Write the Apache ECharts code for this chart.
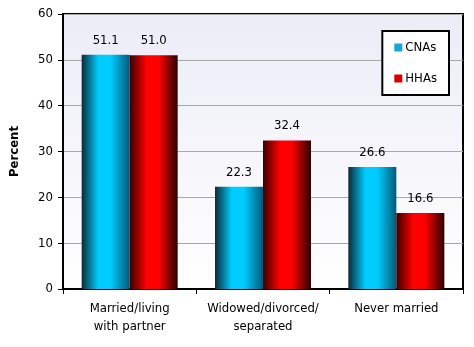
<!DOCTYPE html>
<html><head><meta charset="utf-8">
<script src="https://cdn.jsdelivr.net/npm/echarts@6/dist/echarts.min.js"></script>
<style>html,body{margin:0;padding:0;background:#fff}#c{width:474px;height:347px}</style>
</head><body><div id="c"></div>
<script>
const categories = ['Married/living\nwith partner', 'Widowed/divorced/\nseparated', 'Never married'];
const cnaValues = [51.1, 22.3, 26.6];
const hhaValues = [51.0, 32.4, 16.6];
const yTicks = [0, 10, 20, 30, 40, 50, 60];
const FONT = '"DejaVu Sans Condensed", "Liberation Sans Narrow", sans-serif';

function barGrad(dark, bright, dark2) {
  return new echarts.graphic.LinearGradient(0, 0, 1, 0, [
    {offset: 0, color: dark},
    {offset: 0.35, color: bright},
    {offset: 0.6, color: bright},
    {offset: 1, color: dark2}
  ]);
}
const chart = echarts.init(document.getElementById('c'));
chart.setOption({
  animation: false,
  textStyle: {fontFamily: FONT},
  grid: {left: 63, right: 11, top: 14, bottom: 58, show: true, borderColor: '#000', borderWidth: 2,
    backgroundColor: new echarts.graphic.LinearGradient(0, 0, 0, 1, [
      {offset: 0, color: '#ececf7'}, {offset: 1, color: '#ffffff'}])},
  legend: {
    orient: 'vertical', right: 25, top: 31, width: 65,
    padding: [10, 12, 10, 12], itemGap: 18,
    borderColor: '#000', borderWidth: 2, backgroundColor: '#fff',
    itemWidth: 8, itemHeight: 8, icon: 'rect',
    textStyle: {fontFamily: FONT, fontSize: 13, color: '#000', padding: [0, 0, 0, -2]},
    data: [
      {name: 'CNAs', itemStyle: {color: '#1aa6d6'}},
      {name: 'HHAs', itemStyle: {color: '#d80000'}}
    ]
  },
  xAxis: {
    type: 'category', data: categories,
    axisLine: {lineStyle: {color: '#000', width: 2}},
    axisTick: {show: true, length: 5, lineStyle: {color: '#000'}},
    axisLabel: {interval: 0, color: '#000', fontSize: 13, fontFamily: FONT, margin: 11, lineHeight: 18}
  },
  yAxis: {
    type: 'value', min: 0, max: 60, interval: 10,
    name: 'Percent', nameLocation: 'middle', nameGap: 42, nameRotate: 90,
    nameTextStyle: {color: '#000', fontWeight: 'bold', fontSize: 13, fontFamily: FONT},
    axisLine: {show: true, lineStyle: {color: '#000', width: 2}},
    axisTick: {show: true, length: 5, lineStyle: {color: '#000'}},
    axisLabel: {color: '#000', fontSize: 13, fontFamily: FONT, margin: 10,
      formatter: v => yTicks.includes(v) ? String(v) : ''},
    splitLine: {lineStyle: {color: '#a8a8a8', width: 1}}
  },
  series: [
    {name: 'CNAs', type: 'bar', data: cnaValues, barGap: '0%', barCategoryGap: '28%',
     itemStyle: {color: barGrad('#0b2a38', '#00ccff', '#035a78')},
     label: {show: true, position: 'top', distance: 8, color: '#000', fontSize: 13, fontFamily: FONT,
       formatter: p => p.value.toFixed(1)}},
    {name: 'HHAs', type: 'bar', data: hhaValues,
     itemStyle: {color: barGrad('#3a0000', '#ff0000', '#2a0000')},
     label: {show: true, position: 'top', distance: 8, color: '#000', fontSize: 13, fontFamily: FONT,
       formatter: p => p.value.toFixed(1)}}
  ]
});
</script></body></html>
